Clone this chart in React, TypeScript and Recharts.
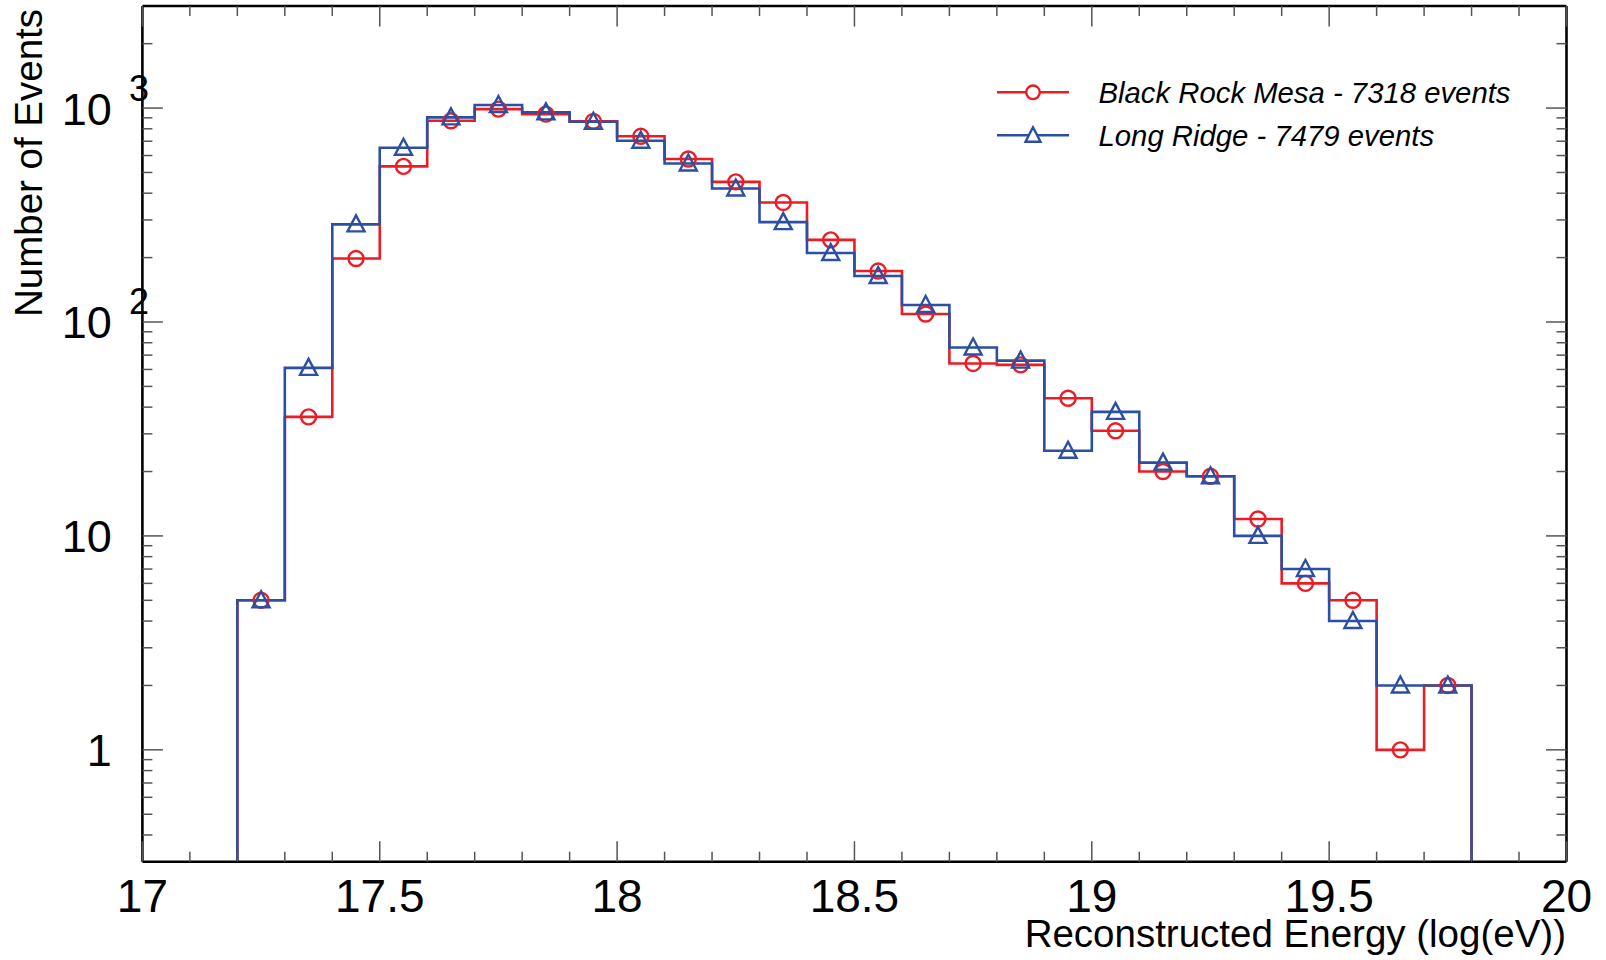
import React from 'react';
import { ComposedChart, Line, Scatter, XAxis, YAxis } from 'recharts';

// ---- data ----
const binEdges = [17.2, 17.3, 17.4, 17.5, 17.6, 17.7, 17.8, 17.9, 18.0, 18.1, 18.2, 18.3, 18.4, 18.5, 18.6, 18.7, 18.8, 18.9, 19.0, 19.1, 19.2, 19.3, 19.4, 19.5, 19.6, 19.7, 19.8];
const binCenters = [17.25, 17.35, 17.45, 17.55, 17.65, 17.75, 17.85, 17.95, 18.05, 18.15, 18.25, 18.35, 18.45, 18.55, 18.65, 18.75, 18.85, 18.95, 19.05, 19.15, 19.25, 19.35, 19.45, 19.55, 19.65, 19.75];
const blackRockMesa = [5, 36, 198, 534, 872, 989, 937, 867, 738, 578, 452, 362, 242, 173, 109, 64, 63, 44, 31, 20, 19, 12, 6, 5, 1, 2];
const longRidge = [5, 61, 286, 652, 905, 1033, 955, 863, 703, 551, 421, 293, 210, 164, 120, 76, 66, 25, 38, 22, 19, 10, 7, 4, 2, 2];

const seriesNames = ['Black Rock Mesa - 7318 events', 'Long Ridge - 7479 events'];
const xTickValues = [17, 17.1, 17.2, 17.3, 17.4, 17.5, 17.6, 17.7, 17.8, 17.9, 18, 18.1, 18.2, 18.3, 18.4, 18.5, 18.6, 18.7, 18.8, 18.9, 19, 19.1, 19.2, 19.3, 19.4, 19.5, 19.6, 19.7, 19.8, 19.9, 20];
const xMajorTicks = [17, 17.5, 18, 18.5, 19, 19.5, 20];
const xTickLabels = ['17', '17.5', '18', '18.5', '19', '19.5', '20'];
const yMajorTicks = [1, 10, 100, 1000];
const yTickBase = ['1', '10', '10', '10'];
const yTickExp = ['', '', '2', '3'];
const yMinorTicks = [0.4, 0.5, 0.6, 0.7, 0.8, 0.9, 2, 3, 4, 5, 6, 7, 8, 9, 20, 30, 40, 50, 60, 70, 80, 90, 200, 300, 400, 500, 600, 700, 800, 900, 2000];
const xDomain = [17, 20];
const yDomain = [0.3, 3000];

const xTitle = 'Reconstructed Energy (log(eV))';
const yTitle = 'Number of Events';

// ---- styles ----
const RED = '#ec1c24';
const BLUE = '#2a4fa3';
const FONT = '"Liberation Sans", Arial, Helvetica, sans-serif';
const W = 1606;
const H = 960;
// plot box: left 142.4, right 1566.5, top 6, bottom 861.7 (axes take 1px each)
const M = { top: 5, right: 38.5, bottom: 97.3, left: 141.4 };

// histogram outline table: empty outer bins are drawn at the axis floor
const stepTable = (counts: number[]) => {
  const floor = yDomain[0];
  const rows = [{ x: binEdges[0], y: floor }];
  counts.forEach((c, i) => rows.push({ x: binEdges[i], y: c }));
  const last = binEdges[binEdges.length - 1];
  rows.push({ x: last, y: counts[counts.length - 1] });
  rows.push({ x: last, y: floor });
  return rows;
};
const markerTable = (counts: number[]) => counts.map((c, i) => ({ x: binCenters[i], y: c }));

const redSteps = stepTable(blackRockMesa);
const blueSteps = stepTable(longRidge);
const redMarks = markerTable(blackRockMesa);
const blueMarks = markerTable(longRidge);
const yTicksAll = [...yMinorTicks, ...yMajorTicks].sort((a, b) => a - b);

const TICK_COLOR = '#555';

const isXMajor = (v: number) => xMajorTicks.some((m) => Math.abs(m - v) < 1e-6);
const isYMajor = (v: number) => yMajorTicks.some((m) => Math.abs(m - v) < 1e-9);

const BottomXTick = (p: any) => {
  const { x, y, payload } = p;
  const major = isXMajor(payload.value);
  const idx = xMajorTicks.findIndex((m) => Math.abs(m - payload.value) < 1e-6);
  return (
    <g>
      <line x1={x} x2={x} y1={y} y2={y - (major ? 20.5 : 10)} stroke={TICK_COLOR} strokeWidth={1.5} />
      {major && (
        <text x={x} y={y + 50} textAnchor="middle" fontSize={46} fontFamily={FONT} fill="#000">
          {xTickLabels[idx]}
        </text>
      )}
    </g>
  );
};

const TopXTick = (p: any) => {
  const { x, y, payload } = p;
  const major = isXMajor(payload.value);
  return <line x1={x} x2={x} y1={y} y2={y + (major ? 20.5 : 10)} stroke={TICK_COLOR} strokeWidth={1.5} />;
};

const LeftYTick = (p: any) => {
  const { x, y, payload } = p;
  const major = isYMajor(payload.value);
  const idx = yMajorTicks.findIndex((m) => Math.abs(m - payload.value) < 1e-9);
  return (
    <g>
      <line x1={x} x2={x + (major ? 20.5 : 10)} y1={y} y2={y} stroke={TICK_COLOR} strokeWidth={1.5} />
      {major && (
        <text x={x - 30.5} y={y + 16.5} textAnchor="end" fontSize={45} fontFamily={FONT} fill="#000">
          {yTickBase[idx]}
        </text>
      )}
      {major && yTickExp[idx] !== '' && (
        <text x={x - 13.5} y={y - 7.5} textAnchor="start" fontSize={36} fontFamily={FONT} fill="#000">
          {yTickExp[idx]}
        </text>
      )}
    </g>
  );
};

const RightYTick = (p: any) => {
  const { x, y, payload } = p;
  const major = isYMajor(payload.value);
  return <line x1={x} x2={x - (major ? 20.5 : 10)} y1={y} y2={y} stroke={TICK_COLOR} strokeWidth={1.5} />;
};

const CircleMark = (p: any) => (
  <circle cx={p.cx} cy={p.cy} r={7.5} fill="none" stroke={RED} strokeWidth={2.4} />
);
const TriangleMark = (p: any) => (
  <polygon
    points={`${p.cx},${p.cy - 9} ${p.cx - 8.5},${p.cy + 7} ${p.cx + 8.5},${p.cy + 7}`}
    fill="none"
    stroke={BLUE}
    strokeWidth={2.4}
    strokeLinejoin="miter"
  />
);

const axisLine = { stroke: '#000', strokeWidth: 2.6 };

export default function App() {
  return (
    <div style={{ position: 'absolute', left: 0, top: 0, width: W, height: H, background: '#fff' }}>
      <ComposedChart width={W} height={H} margin={M}>
        <XAxis
          xAxisId="b"
          dataKey="x"
          type="number"
          domain={xDomain}
          allowDataOverflow
          ticks={xTickValues}
          interval={0}
          height={1}
          tickSize={0}
          tickMargin={0}
          tickLine={false}
          axisLine={axisLine}
          tick={BottomXTick}
        />
        <XAxis
          xAxisId="t"
          orientation="top"
          dataKey="x"
          type="number"
          domain={xDomain}
          allowDataOverflow
          ticks={xTickValues}
          interval={0}
          height={1}
          tickSize={0}
          tickMargin={0}
          tickLine={false}
          axisLine={axisLine}
          tick={TopXTick}
        />
        <YAxis
          yAxisId="l"
          dataKey="y"
          type="number"
          scale="log"
          domain={yDomain}
          allowDataOverflow
          ticks={yTicksAll}
          interval={0}
          width={1}
          tickSize={0}
          tickMargin={0}
          tickLine={false}
          axisLine={axisLine}
          tick={LeftYTick}
        />
        <YAxis
          yAxisId="r"
          orientation="right"
          dataKey="y"
          type="number"
          scale="log"
          domain={yDomain}
          allowDataOverflow
          ticks={yTicksAll}
          interval={0}
          width={1}
          tickSize={0}
          tickMargin={0}
          tickLine={false}
          axisLine={axisLine}
          tick={RightYTick}
        />
        <Line
          xAxisId="b"
          yAxisId="l"
          data={redSteps}
          dataKey="y"
          type="stepAfter"
          stroke={RED}
          strokeWidth={2.6}
          dot={false}
          activeDot={false}
          isAnimationActive={false}
        />
        <Scatter
          xAxisId="b"
          yAxisId="l"
          data={redMarks}
          dataKey="y"
          shape={CircleMark}
          isAnimationActive={false}
        />
        <Line
          xAxisId="b"
          yAxisId="l"
          data={blueSteps}
          dataKey="y"
          type="stepAfter"
          stroke={BLUE}
          strokeWidth={2.6}
          dot={false}
          activeDot={false}
          isAnimationActive={false}
        />
        <Scatter
          xAxisId="b"
          yAxisId="l"
          data={blueMarks}
          dataKey="y"
          shape={TriangleMark}
          isAnimationActive={false}
        />
      </ComposedChart>
      <svg width={W} height={H} style={{ position: 'absolute', left: 0, top: 0, pointerEvents: 'none' }}>
        <text x={1566} y={946.5} textAnchor="end" fontSize={38.5} fontFamily={FONT} fill="#000">
          {xTitle}
        </text>
        <text
          transform="translate(41.5,163) rotate(-90)"
          textAnchor="middle"
          fontSize={38.5}
          fontFamily={FONT}
          fill="#000"
        >
          {yTitle}
        </text>
        {/* legend */}
        <line x1={997} x2={1069} y1={92.3} y2={92.3} stroke={RED} strokeWidth={2.6} />
        <circle cx={1033} cy={92.3} r={6.8} fill="#fff" stroke={RED} strokeWidth={2.4} />
        <text x={1098.5} y={103.3} fontSize={29.3} fontStyle="italic" fontFamily={FONT} fill="#000">
          {seriesNames[0]}
        </text>
        <line x1={997} x2={1069} y1={135.3} y2={135.3} stroke={BLUE} strokeWidth={2.6} />
        <polygon
          points={`1033,${135.3 - 8} ${1033 - 7.5},${135.3 + 6.5} ${1033 + 7.5},${135.3 + 6.5}`}
          fill="#fff"
          stroke={BLUE}
          strokeWidth={2.4}
        />
        <text x={1098.5} y={146} fontSize={29.3} fontStyle="italic" fontFamily={FONT} fill="#000">
          {seriesNames[1]}
        </text>
      </svg>
    </div>
  );
}
